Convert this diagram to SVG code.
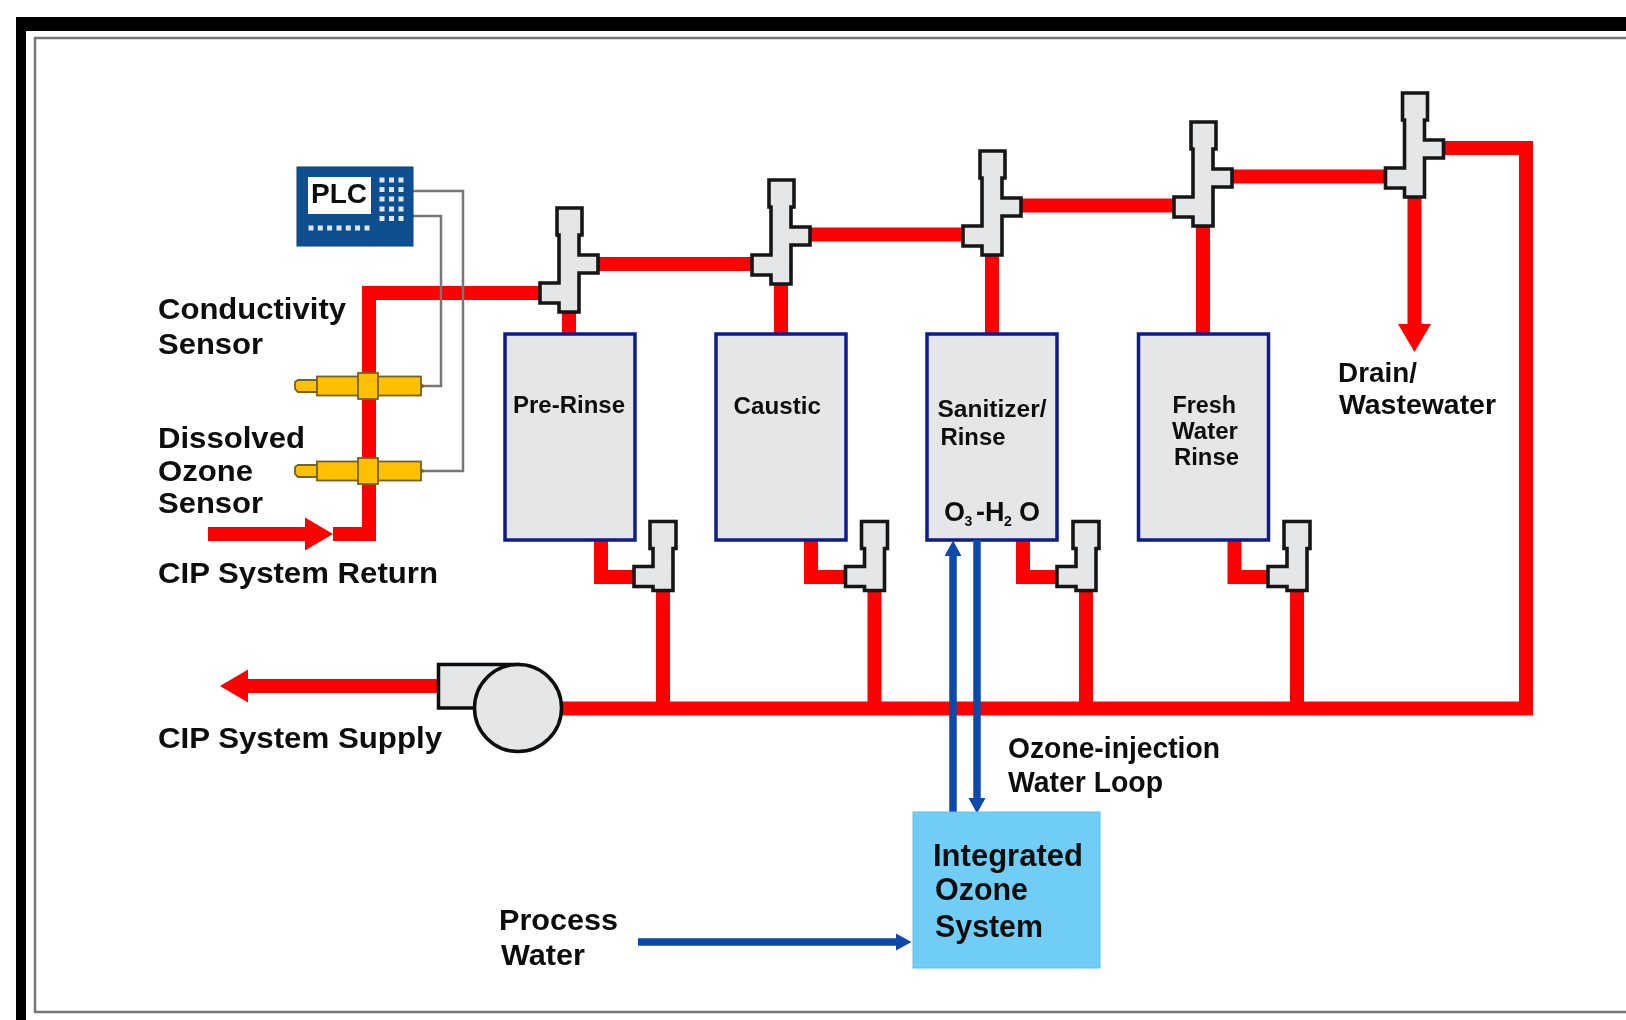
<svg xmlns="http://www.w3.org/2000/svg" xmlns:xlink="http://www.w3.org/1999/xlink" width="1626" height="1020" viewBox="0 0 1626 1020">
<style>
text{font-family:"Liberation Sans",Arial,sans-serif;font-weight:bold;fill:#111}
.lg{font-size:29.500px}.mid{font-size:28px}.md{font-size:24px}.sm{font-size:23px}.xl{font-size:31px}
.red{fill:none;stroke:#fe0000;stroke-width:14;stroke-linejoin:miter}
.blue{fill:none;stroke:#0b4aa8;stroke-width:7.5}
.wire{fill:none;stroke:#777;stroke-width:2.5}
.tank{fill:#e5e6e8;stroke:#0a1a8c;stroke-width:3.5}
.valve{fill:#e5e6e8;stroke:#161616;stroke-width:3.6}
.gold{fill:#ffc000;stroke:#75631c;stroke-width:1.8}
.dot{fill:#dfe6ee}
</style>
<defs>
<filter id="soft" x="-2%" y="-2%" width="104%" height="104%"><feGaussianBlur stdDeviation="0.55"/></filter>
<marker id="redHead" markerUnits="userSpaceOnUse" markerWidth="29" markerHeight="34" refX="0" refY="17" orient="auto"><path d="M0,0.5 L28,17 L0,33.5 Z" fill="#fe0000"/></marker>
<marker id="blueHead" markerUnits="userSpaceOnUse" markerWidth="16" markerHeight="18" refX="0" refY="9" orient="auto"><path d="M0,0.5 L15.5,9 L0,17.5 Z" fill="#0b4aa8"/></marker>
<polygon id="teeUpper" class="valve" points="-12,-104 13,-104 13,-77 10,-77 10,-57 29,-57 29,-39 10,-39 10,0 -10,0 -10,-9 -29,-9 -29,-29 -10,-29 -10,-77 -12,-77"/>
<polygon id="teeLower" class="valve" points="-13,-69 13,-69 13,-42 10,-42 10,0 -10,0 -10,-4 -29,-4 -29,-24 -10,-24 -10,-42 -13,-42"/>
<g id="sensor">
<path class="gold" d="M295,-4 L298,-6 H317 V6 H298 L295,3 Z"/>
<rect class="gold" x="317" y="-9.500" width="104" height="19"/>
<path d="M421,-3 L425,0 L421,3 Z" fill="#75631c"/>
<rect class="gold" x="358" y="-13" width="20" height="26"/>
</g>
</defs>
<rect width="1626" height="1020" fill="#fff"/>
<g id="frame">
<polygon points="16,1020 16,17 1626,17 1626,31 26,31 26,1020" fill="#000"/>
<path d="M1626,38 H35 V1012 H1626" fill="none" stroke="#777" stroke-width="2.5"/>
</g>
<g filter="url(#soft)">
<g id="connectors">
<path class="red" d="M333,534 H369 V293 H545"/>
<path class="red" d="M208,534 H305" marker-end="url(#redHead)"/>
<path class="red" d="M590,264 H760"/>
<path class="red" d="M800,234.500 H970"/>
<path class="red" d="M1010,205.500 H1180"/>
<path class="red" d="M1222,176.500 H1390"/>
<path class="red" d="M1435,148 H1526 V708.500 H555"/>
<path class="red" d="M1414.500,190 V324" marker-end="url(#redHead)"/>
<path class="red" d="M437,686 H248" marker-end="url(#redHead)"/>
<path class="red" d="M569,305 V336"/>
<path class="red" d="M781,278 V336"/>
<path class="red" d="M992,250 V336"/>
<path class="red" d="M1203,220 V336"/>
<path class="red" d="M601,538 V577 H640"/>
<path class="red" d="M811,538 V577 H850"/>
<path class="red" d="M1023,538 V577 H1062"/>
<path class="red" d="M1234.500,538 V577 H1273"/>
<path class="red" d="M663,585 V708"/>
<path class="red" d="M874.500,585 V708"/>
<path class="red" d="M1086,585 V708"/>
<path class="red" d="M1297,585 V708"/>
<path class="wire" d="M413,191 H463 V471 H423"/>
<path class="wire" d="M413,216 H441 V386 H423"/>
</g>
<g id="tank-pre-rinse"><rect class="tank" x="505" y="334" width="130" height="206"/><text class="md" x="513" y="413" textLength="112" lengthAdjust="spacingAndGlyphs">Pre-Rinse</text></g>
<g id="tank-caustic"><rect class="tank" x="716" y="334" width="130" height="206"/><text class="md" x="733.500" y="414" textLength="87.500" lengthAdjust="spacingAndGlyphs">Caustic</text></g>
<g id="tank-sanitizer"><rect class="tank" x="927" y="334" width="130" height="206"/>
<text class="md" x="937.500" y="417" textLength="109" lengthAdjust="spacingAndGlyphs">Sanitizer/</text>
<text class="md" x="940.500" y="445" textLength="65" lengthAdjust="spacingAndGlyphs">Rinse</text>
<text style="font-size:27px" x="944" y="520.500">O<tspan x="964.500" dy="5" style="font-size:14px">3</tspan><tspan x="976" dy="-5">-H</tspan><tspan x="1004" dy="5" style="font-size:14px">2</tspan><tspan x="1019" dy="-5">O</tspan></text></g>
<g id="tank-fresh"><rect class="tank" x="1138.500" y="334" width="130" height="206"/>
<text class="sm" x="1172.500" y="413" textLength="63.500" lengthAdjust="spacingAndGlyphs">Fresh</text>
<text class="sm" x="1172" y="439" textLength="66" lengthAdjust="spacingAndGlyphs">Water</text>
<text class="sm" x="1174" y="465" textLength="65" lengthAdjust="spacingAndGlyphs">Rinse</text></g>
<g id="blue-lines">
<path class="blue" d="M953,812 V556" marker-end="url(#blueHead)"/>
<path class="blue" d="M977,540 V798" marker-end="url(#blueHead)"/>
<path class="blue" d="M638,942 H896" marker-end="url(#blueHead)"/>
</g>
<g id="valve-upper-1"><use xlink:href="#teeUpper" href="#teeUpper" x="569" y="312"/></g>
<g id="valve-upper-2"><use xlink:href="#teeUpper" href="#teeUpper" x="781" y="284"/></g>
<g id="valve-upper-3"><use xlink:href="#teeUpper" href="#teeUpper" x="992" y="255"/></g>
<g id="valve-upper-4"><use xlink:href="#teeUpper" href="#teeUpper" x="1203" y="226"/></g>
<g id="valve-upper-5"><use xlink:href="#teeUpper" href="#teeUpper" x="1414.500" y="197"/></g>
<g id="valve-lower-1"><use xlink:href="#teeLower" href="#teeLower" x="663" y="590.500"/></g>
<g id="valve-lower-2"><use xlink:href="#teeLower" href="#teeLower" x="874.500" y="590.500"/></g>
<g id="valve-lower-3"><use xlink:href="#teeLower" href="#teeLower" x="1086" y="590.500"/></g>
<g id="valve-lower-4"><use xlink:href="#teeLower" href="#teeLower" x="1297" y="590.500"/></g>
<g id="sensor-conductivity"><use xlink:href="#sensor" href="#sensor" y="386"/></g>
<g id="sensor-ozone"><use xlink:href="#sensor" href="#sensor" y="471"/></g>
<g id="plc">
<rect x="297" y="167" width="116" height="79" fill="#0e4f8f" stroke="#0a3f78" stroke-width="1"/>
<rect x="308" y="177" width="63" height="37" fill="#fff"/>
<text class="mid" x="311" y="203" textLength="56" lengthAdjust="spacingAndGlyphs">PLC</text>
<g class="dot">
<rect x="379.500" y="177.500" width="5" height="5"/><rect x="389" y="177.500" width="5" height="5"/><rect x="398.500" y="177.500" width="5" height="5"/>
<rect x="379.500" y="187" width="5" height="5"/><rect x="389" y="187" width="5" height="5"/><rect x="398.500" y="187" width="5" height="5"/>
<rect x="379.500" y="196.500" width="5" height="5"/><rect x="389" y="196.500" width="5" height="5"/><rect x="398.500" y="196.500" width="5" height="5"/>
<rect x="379.500" y="206.500" width="5" height="5"/><rect x="389" y="206.500" width="5" height="5"/><rect x="398.500" y="206.500" width="5" height="5"/>
<rect x="379.500" y="216" width="5" height="5"/><rect x="389" y="216" width="5" height="5"/><rect x="398.500" y="216" width="5" height="5"/>
<rect x="308.500" y="225.500" width="5" height="5"/><rect x="317.800" y="225.500" width="5" height="5"/><rect x="327.100" y="225.500" width="5" height="5"/><rect x="336.500" y="225.500" width="5" height="5"/><rect x="345.800" y="225.500" width="5" height="5"/><rect x="355.100" y="225.500" width="5" height="5"/><rect x="364.500" y="225.500" width="5" height="5"/>
</g>
</g>
<g id="pump">
<path d="M438.500,664.500 H518 V708 H438.500 Z" fill="#e5e6e8" stroke="#111" stroke-width="3.500"/>
<circle cx="518" cy="708" r="43.500" fill="#e5e6e8" stroke="#111" stroke-width="3.500"/>
</g>
<g id="ozone-system">
<rect x="913" y="812" width="187" height="156" fill="#6fcdf5" stroke="#5cc3f0" stroke-width="1"/>
<text class="xl" x="933" y="866" textLength="150" lengthAdjust="spacingAndGlyphs">Integrated</text>
<text class="xl" x="935" y="900" textLength="93" lengthAdjust="spacingAndGlyphs">Ozone</text>
<text class="xl" x="935" y="937" textLength="108" lengthAdjust="spacingAndGlyphs">System</text>
</g>
<g id="labels">
<text class="lg" x="158" y="318.500" textLength="188" lengthAdjust="spacingAndGlyphs">Conductivity</text>
<text class="lg" x="158" y="353.500" textLength="105" lengthAdjust="spacingAndGlyphs">Sensor</text>
<text class="lg" x="158" y="447.500" textLength="147" lengthAdjust="spacingAndGlyphs">Dissolved</text>
<text class="lg" x="158" y="480.500" textLength="95" lengthAdjust="spacingAndGlyphs">Ozone</text>
<text class="lg" x="158" y="512.500" textLength="105" lengthAdjust="spacingAndGlyphs">Sensor</text>
<text class="lg" x="158" y="582.500" textLength="280" lengthAdjust="spacingAndGlyphs">CIP System Return</text>
<text class="lg" x="158" y="747.500" textLength="284" lengthAdjust="spacingAndGlyphs">CIP System Supply</text>
<text class="lg" x="499" y="929.500" textLength="119" lengthAdjust="spacingAndGlyphs">Process</text>
<text class="lg" x="501" y="964.500" textLength="84" lengthAdjust="spacingAndGlyphs">Water</text>
<text class="lg" x="1008" y="758" textLength="212" lengthAdjust="spacingAndGlyphs">Ozone-injection</text>
<text class="lg" x="1008" y="792" textLength="155" lengthAdjust="spacingAndGlyphs">Water Loop</text>
<text class="mid" x="1338" y="381.500" textLength="79" lengthAdjust="spacingAndGlyphs">Drain/</text>
<text class="mid" x="1339" y="414" textLength="157" lengthAdjust="spacingAndGlyphs">Wastewater</text>
</g>
</g>
</svg>
